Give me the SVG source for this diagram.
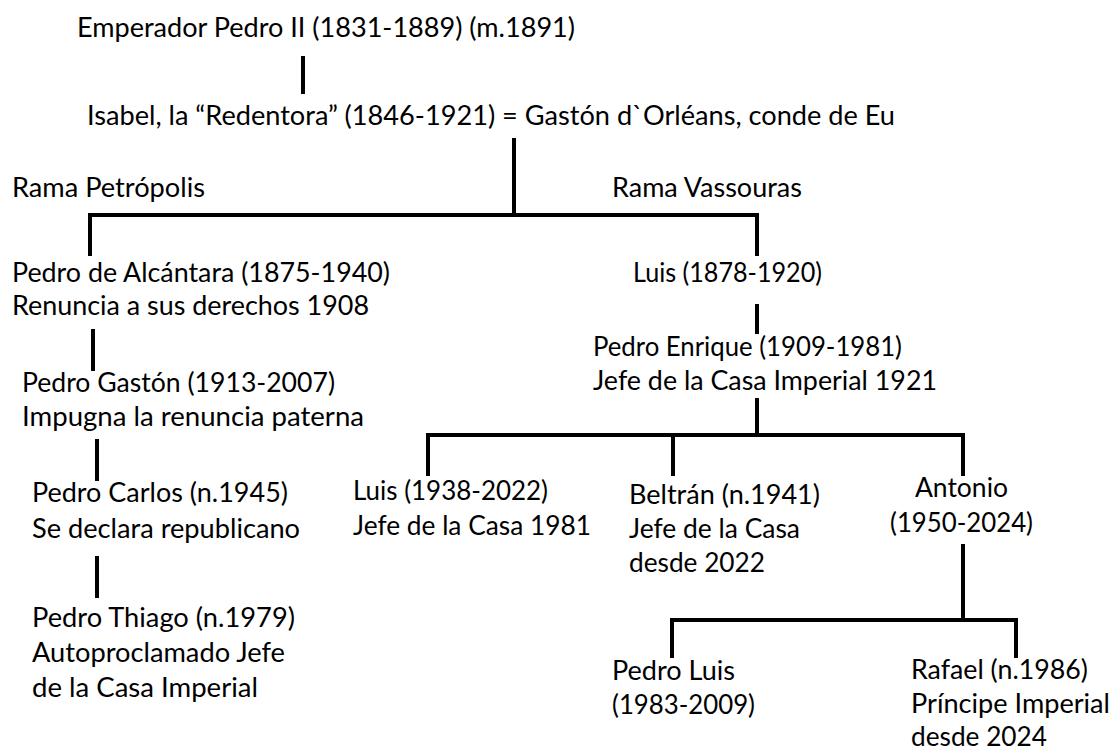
<svg xmlns="http://www.w3.org/2000/svg" width="1118" height="752" viewBox="0 0 1118 752">
<style>
text{font-family:Lato,"Open Sans","Liberation Sans",sans-serif;font-size:26px;fill:#000}
.c line{stroke:#000;stroke-width:4;stroke-linecap:square}
</style>
<rect width="1118" height="752" fill="#fff"/>
<g class="c" id="connectors">
<line x1="303" y1="58" x2="303" y2="92"/>
<line x1="514" y1="140" x2="514" y2="214"/>
<line x1="90" y1="215" x2="757" y2="215"/>
<line x1="90" y1="215" x2="90" y2="254"/>
<line x1="757" y1="215" x2="757" y2="254"/>
<line x1="93" y1="331" x2="93" y2="369"/>
<line x1="97" y1="441" x2="97" y2="479"/>
<line x1="97" y1="558" x2="97" y2="596"/>
<line x1="757" y1="306" x2="757" y2="332"/>
<line x1="757" y1="400" x2="757" y2="434"/>
<line x1="428" y1="435" x2="963" y2="435"/>
<line x1="428" y1="435" x2="428" y2="474"/>
<line x1="673" y1="435" x2="673" y2="474"/>
<line x1="963" y1="435" x2="963" y2="474"/>
<line x1="963" y1="546" x2="963" y2="619"/>
<line x1="672" y1="620" x2="1016" y2="620"/>
<line x1="672" y1="620" x2="672" y2="656"/>
<line x1="1016" y1="620" x2="1016" y2="656"/>
</g>
<g id="pedro2"><text x="77" y="37" textLength="498" lengthAdjust="spacingAndGlyphs">Emperador Pedro II (1831-1889) (m.1891)</text></g>
<g id="isabel"><text x="87" y="125" textLength="808" lengthAdjust="spacingAndGlyphs">Isabel, la “Redentora” (1846-1921) = Gastón d`Orléans, conde de Eu</text></g>
<g id="rama-petropolis"><text x="12" y="197" textLength="193" lengthAdjust="spacingAndGlyphs">Rama Petrópolis</text></g>
<g id="rama-vassouras"><text x="612" y="197" textLength="190" lengthAdjust="spacingAndGlyphs">Rama Vassouras</text></g>
<g id="pedro-alcantara">
<text x="12" y="282" textLength="378" lengthAdjust="spacingAndGlyphs">Pedro de Alcántara (1875-1940)</text>
<text x="12" y="315" textLength="357" lengthAdjust="spacingAndGlyphs">Renuncia a sus derechos 1908</text>
</g>
<g id="pedro-gaston">
<text x="22" y="392" textLength="313" lengthAdjust="spacingAndGlyphs">Pedro Gastón (1913-2007)</text>
<text x="22" y="426" textLength="342" lengthAdjust="spacingAndGlyphs">Impugna la renuncia paterna</text>
</g>
<g id="pedro-carlos">
<text x="32" y="502" textLength="256" lengthAdjust="spacingAndGlyphs">Pedro Carlos (n.1945)</text>
<text x="32" y="538" textLength="268" lengthAdjust="spacingAndGlyphs">Se declara republicano</text>
</g>
<g id="pedro-thiago">
<text x="32" y="627" textLength="263" lengthAdjust="spacingAndGlyphs">Pedro Thiago (n.1979)</text>
<text x="32" y="662" textLength="253" lengthAdjust="spacingAndGlyphs">Autoproclamado Jefe</text>
<text x="32" y="697" textLength="226" lengthAdjust="spacingAndGlyphs">de la Casa Imperial</text>
</g>
<g id="luis-1878"><text x="633" y="282" textLength="189" lengthAdjust="spacingAndGlyphs">Luis (1878-1920)</text></g>
<g id="pedro-enrique">
<text x="593" y="356" textLength="309" lengthAdjust="spacingAndGlyphs">Pedro Enrique (1909-1981)</text>
<text x="593" y="390" textLength="344" lengthAdjust="spacingAndGlyphs">Jefe de la Casa Imperial 1921</text>
</g>
<g id="luis-1938">
<text x="353" y="500" textLength="195" lengthAdjust="spacingAndGlyphs">Luis (1938-2022)</text>
<text x="353" y="535" textLength="238" lengthAdjust="spacingAndGlyphs">Jefe de la Casa 1981</text>
</g>
<g id="beltran">
<text x="629" y="504" textLength="191" lengthAdjust="spacingAndGlyphs">Beltrán (n.1941)</text>
<text x="629" y="538" textLength="171" lengthAdjust="spacingAndGlyphs">Jefe de la Casa</text>
<text x="629" y="572" textLength="136" lengthAdjust="spacingAndGlyphs">desde 2022</text>
</g>
<g id="antonio">
<text x="915" y="497" textLength="93" lengthAdjust="spacingAndGlyphs">Antonio</text>
<text x="890" y="532" textLength="143" lengthAdjust="spacingAndGlyphs">(1950-2024)</text>
</g>
<g id="pedro-luis">
<text x="612" y="680" textLength="123" lengthAdjust="spacingAndGlyphs">Pedro Luis</text>
<text x="612" y="714" textLength="143" lengthAdjust="spacingAndGlyphs">(1983-2009)</text>
</g>
<g id="rafael">
<text x="911" y="679" textLength="177" lengthAdjust="spacingAndGlyphs">Rafael (n.1986)</text>
<text x="911" y="713" textLength="199" lengthAdjust="spacingAndGlyphs">Príncipe Imperial</text>
<text x="911" y="746" textLength="136" lengthAdjust="spacingAndGlyphs">desde 2024</text>
</g>
</svg>
